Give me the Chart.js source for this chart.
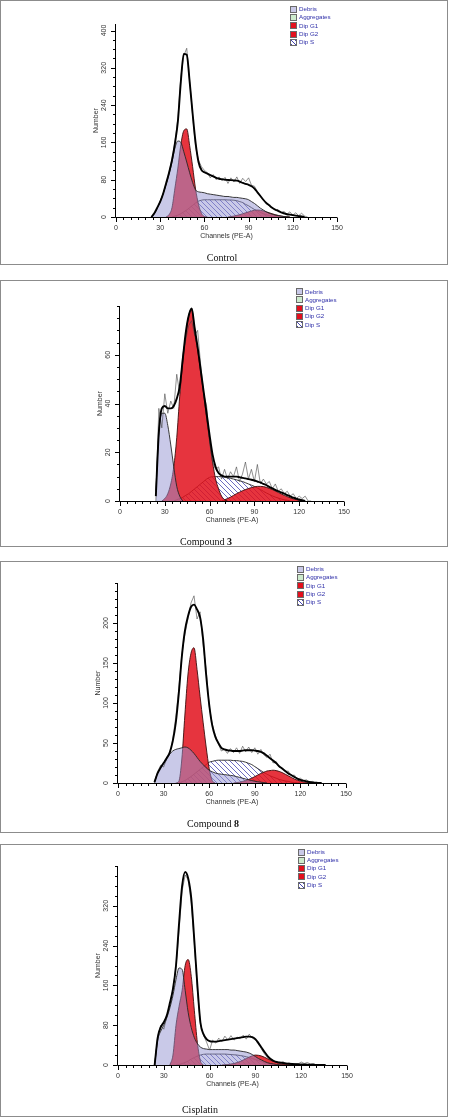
<!DOCTYPE html>
<html>
<head>
<meta charset="utf-8">
<title>DNA content histograms</title>
<script src="https://cdn.jsdelivr.net/npm/chart.js@4.4.1/dist/chart.umd.min.js"></script>
<style>
  body { margin: 0; width: 450px; height: 1117px; position: relative; background: #fff; overflow: hidden; font-family: "Liberation Sans", Arial, sans-serif; }
  .frame { position: absolute; left: 0; width: 448px; border: 1px solid #8c8c8c; box-sizing: border-box; }
  canvas { position: absolute; left: 0; }
  .legend { position: absolute; font-size: 6.2px; color: #2e2ea8; }
  .legend div { position: relative; height: 8.3px; line-height: 8.3px; padding-left: 9px; white-space: nowrap; }
  .legend i { position: absolute; left: 0; top: 0.7px; width: 7px; height: 7px; box-sizing: border-box; border: 1px solid #6a6a6a; }
  .cap { position: absolute; font-family: "Liberation Serif", "Times New Roman", serif; font-size: 10px; color: #111; transform: translate(-50%, -50%); white-space: nowrap; }
</style>
</head>
<body>
<div class="frame" style="top:0;height:265px"></div>
<div class="frame" style="top:280px;height:267px"></div>
<div class="frame" style="top:561px;height:272px"></div>
<div class="frame" style="top:844px;height:273px"></div>
<canvas id="ctl" width="450" height="265" style="top:0"></canvas>
<canvas id="c3" width="450" height="267" style="top:280px"></canvas>
<canvas id="c8" width="450" height="272" style="top:561px"></canvas>
<canvas id="cis" width="450" height="273" style="top:844px"></canvas>
<script>
// channel grid (PE-A)
const ch = [22, 24, 26, 28, 30, 32, 34, 36, 38, 40,
            42, 44, 46, 48, 50, 52, 54, 56, 58, 60,
            62, 64, 66, 68, 70, 72, 74, 76, 78, 80,
            82, 84, 86, 88, 90, 92, 94, 96, 98, 100,
            102, 104, 106, 108, 110, 112, 114, 116, 118, 120,
            122, 124, 126, 128, 130, 132, 134, 136];
const xTicks = [0, 30, 60, 90, 120, 150];
const legendNames = ["Debris", "Aggregates", "Dip G1", "Dip G2", "Dip S"];

// Control
const ctlTicks = [0, 80, 160, 240, 320, 400];
const ctlFit = [null, 0, 8, 20, 33, 50, 72, 95, 122, 158,
  205, 290, 350, 348, 290, 222, 160, 118, 101, 96,
  93, 90, 87, 84, 82, 81, 80, 79.5, 79, 78.5,
  78, 76, 73, 71, 69, 66, 61, 53, 45, 37,
  30, 25, 20, 16, 13, 10, 8, 6, 5, 4,
  3, 2, 1, 0];
const ctlRaw = [null, 0, 7, 19, 34, 51, 71, 96, 124, 160,
  212, 300, 346, 362, 292, 218, 150, 122, 108, 100,
  95, 84, 91, 80, 86, 78, 85, 72, 84, 75,
  86, 72, 83, 76, 84, 68, 66, 54, 44, 36,
  31, 24, 20, 14, 16, 9, 12, 6, 11, 4,
  9, 3, 8, 2, 0];
const ctlDebris = [null, 0, 7, 19, 33, 50, 70, 92, 118, 148,
  163, 160, 140, 118, 95, 74, 58, 54, 53, 52,
  50, 49, 48, 47, 46, 45, 44, 44, 43, 42,
  42, 41, 40, 39, 37, 33, 29, 24, 19, 15,
  11, 8, 6, 4, 3, 2, 1, 0.5, 0];
const ctlG1 = [null, null, null, null, null, null, 0, 5, 20, 62,
  105, 155, 185, 189, 153, 108, 60, 27, 8, 1,
  0];
const ctlG2 = [null, null, null, null, null, null, null, null, null, null,
  null, null, null, null, null, null, null, null, null, null,
  null, null, null, null, null, null, null, 0, 1, 2,
  3.5, 5, 7, 9, 11, 13, 14.5, 15, 14.5, 13,
  11, 9, 7, 5, 3.5, 2, 1, 0.5, 0];
const ctlS = [null, null, null, null, null, null, null, null, 0, 2,
  4, 7, 11, 15, 20, 25, 30, 34, 36, 37,
  37, 37, 37, 37, 37, 37, 37, 36.5, 36.5, 36,
  35, 33, 31, 27, 24, 20, 16, 13, 10, 7,
  5, 3, 1.5, 0.5, 0];

// Compound 3
const c3Ticks = [0, 20, 40, 60];
const c3Fit = [null, 2, 28, 38, 39, 38, 38, 39, 42, 47,
  58, 69, 76, 79, 71, 63, 54, 45, 36, 27,
  19, 14, 11.5, 10.5, 10, 10, 10, 10, 10, 9.8,
  9.5, 9.3, 9, 8.7, 8.4, 8, 7.6, 7, 6.5, 5.8,
  5.2, 4.6, 4, 3.5, 3, 2.4, 1.9, 1.4, 1, 0.6,
  0.3, 0];
const c3Raw = [null, 0, 38, 30, 44, 36, 41, 38, 52, 44,
  60, 66, 72, 74, 68, 70, 56, 44, 39, 24,
  16, 13, 14, 9, 13, 9, 12, 10, 14, 8,
  11, 16, 9, 13, 8, 15, 7, 9, 7, 8,
  5, 7, 4, 5, 3, 4, 2, 3, 1, 2,
  1, 2, 0, 0];
const c3Debris = [null, 4, 28, 36, 36, 31, 23, 14, 6, 2,
  0];
const c3G1 = [null, null, null, 0, 1, 3, 7, 14, 26, 43,
  57, 68, 76, 79, 69, 62, 53, 44, 34, 25,
  16, 9, 5, 2, 0.5, 0];
const c3G2 = [null, null, null, null, null, null, null, null, null, null,
  null, null, null, null, null, null, null, null, null, null,
  null, null, null, 0, 0.5, 1, 1.6, 2.3, 3, 3.6,
  4.2, 4.7, 5.1, 5.5, 5.8, 6, 6, 5.9, 5.6, 5.2,
  4.7, 4.1, 3.5, 2.9, 2.3, 1.8, 1.3, 0.9, 0.6, 0.3,
  0.1, 0];
const c3S = [null, null, null, null, null, null, null, 0, 0.5, 1,
  1.5, 2.3, 3, 4, 5, 6, 7, 8, 9, 9.7,
  10, 10, 10, 10, 9.8, 9.6, 9.3, 9, 8.7, 8.3,
  8, 7.5, 7, 6.5, 6, 5.3, 4.7, 4, 3.3, 2.7,
  2.1, 1.6, 1.2, 0.8, 0.5, 0.3, 0];

// Compound 8
const c8Ticks = [0, 50, 100, 150, 200];
const c8Fit = [null, 1, 12, 19, 25, 31, 38, 52, 75, 112,
  158, 190, 208, 220, 223, 217, 207, 180, 135, 98,
  72, 58, 50, 44, 42, 41, 40.5, 40, 40, 40,
  40.5, 41, 41, 41, 40.5, 40, 39, 37, 34, 31,
  28, 25, 21, 18, 15, 12, 10, 7.5, 5.5, 4,
  3, 2, 1.3, 0.8, 0.4, 0, 0];
const c8Raw = [null, 0, 14, 22, 20, 30, 36, 55, 82, 118,
  160, 186, 205, 225, 234, 205, 214, 172, 142, 96,
  74, 60, 49, 40, 42, 37, 43, 38, 44, 37,
  46, 39, 45, 38, 44, 36, 42, 35, 32, 36,
  25, 27, 20, 19, 14, 15, 9, 10, 5, 6,
  3, 4, 1, 2, 0, 0];
const c8Debris = [null, 1, 12, 19, 25, 31, 36, 40, 42, 43,
  44, 45, 44, 41, 37, 32, 27, 23, 19, 16,
  14, 12.5, 11.5, 11, 10.5, 10, 9.5, 9, 8, 7,
  6, 5, 4, 3, 2.2, 1.5, 1, 0.5, 0];
const c8G1 = [null, null, null, null, null, null, null, null, 0, 2,
  30, 85, 135, 162, 169, 142, 108, 76, 45, 18,
  3, 0];
const c8G2 = [null, null, null, null, null, null, null, null, null, null,
  null, null, null, null, null, null, null, null, null, null,
  null, null, null, null, null, null, null, 0, 0.5, 1,
  2, 3, 4.5, 6, 8, 10, 12, 13.5, 15, 15.5,
  16, 15.5, 14.5, 13, 11, 9, 7, 5, 3.5, 2.3,
  1.4, 0.8, 0.4, 0.1, 0];
const c8S = [null, null, null, null, null, null, null, null, null, 0,
  1.5, 3, 5.5, 8, 11, 14, 17, 20, 23, 26,
  27, 28, 28.5, 28.5, 28.5, 28.5, 28.5, 28, 28, 27.5,
  27, 26, 24.5, 23, 20.5, 18, 15.5, 13, 11, 9,
  7.5, 6, 4.5, 3.5, 2.5, 2, 1, 0.5, 0.2, 0];

// Cisplatin
const cisTicks = [0, 80, 160, 240, 320];
const cisFit = [null, 0, 55, 76, 86, 100, 125, 153, 200, 285,
  360, 388, 375, 335, 250, 160, 85, 62, 52, 48,
  47, 47, 48, 49, 50, 51, 52, 53, 54, 55,
  56, 57, 57, 56, 52, 44, 35, 26, 18, 12,
  8, 6, 5, 4, 3.2, 2.6, 2.1, 1.7, 1.4, 1.2,
  1, 0.8, 0.6, 0.4, 0.3, 0.2, 0.1, 0];
const cisRaw = [null, 0, 58, 80, 72, 98, 122, 152, 198, 270,
  350, 382, 372, 325, 245, 150, 82, 60, 46, 30,
  50, 44, 54, 47, 58, 50, 59, 50, 56, 53,
  60, 52, 62, 54, 50, 42, 32, 22, 15, 12,
  9, 6, 4, 7, 3, 4, 2, 3, 2, 6,
  3, 5, 2, 3, 0, 0];
const cisDebris = [null, 0, 50, 68, 80, 95, 115, 140, 172, 195,
  192, 150, 105, 75, 55, 43, 36, 33, 32, 31,
  31, 31, 31, 31, 31, 31, 30, 30, 29, 28,
  27, 26, 24, 21, 17, 13, 10, 7, 4.5, 3,
  2, 1, 0.5, 0];
const cisG1 = [null, null, null, null, null, null, 0, 20, 80, 118,
  150, 200, 212, 178, 110, 45, 8, 0];
const cisG2 = [null, null, null, null, null, null, null, null, null, null,
  null, null, null, null, null, null, null, null, null, null,
  null, null, null, 0, 0.5, 1, 2, 3, 5, 7,
  10, 13, 16, 18.5, 20, 19.5, 18, 15.5, 12.5, 9.5,
  7, 5, 3, 1.8, 1, 0.5, 0];
const cisS = [null, null, null, null, null, null, null, null, 0, 1,
  3, 5, 8, 12, 15, 18, 20, 21.5, 22, 22,
  22, 22, 22, 22, 22, 21.5, 21, 20.5, 20, 19,
  18, 16.5, 15, 13, 11, 9, 7, 5, 3.5, 2,
  1, 0.5, 0];

// diagonal hatch used for Dip S
const hatch = (function () {
  const c = document.createElement("canvas");
  c.width = 5; c.height = 5;
  const g = c.getContext("2d");
  g.strokeStyle = "#4646b0";
  g.lineWidth = 0.8;
  g.beginPath();
  g.moveTo(-1, -1); g.lineTo(6, 6);
  g.moveTo(-1, 4); g.lineTo(1, 6);
  g.moveTo(4, -1); g.lineTo(6, 1);
  g.stroke();
  return g.createPattern(c, "repeat");
})();

// axis lines, ticks and rotated y labels
const axisPlugin = {
  id: "frameAxes",
  afterDraw(chart) {
    const o = chart.options.plugins.frameAxes;
    const ctx = chart.ctx, a = chart.chartArea;
    const x = chart.scales.x, y = chart.scales.y;
    const bx = Math.round(a.left) - 0.5, by = Math.round(a.bottom) + 0.5;
    ctx.save();
    ctx.strokeStyle = "#000";
    ctx.lineWidth = 1;
    ctx.beginPath();
    ctx.moveTo(bx, a.top);
    ctx.lineTo(bx, by);
    ctx.lineTo(a.right, by);
    for (let v = 0; v <= 150; v += 5) {
      const p = Math.round(x.getPixelForValue(v)) + 0.5;
      ctx.moveTo(p, by);
      ctx.lineTo(p, by + (xTicks.includes(v) ? 4.5 : 2.5));
    }
    for (let v = 0; v <= o.max; v += o.minor) {
      const p = Math.round(y.getPixelForValue(v)) + 0.5;
      ctx.moveTo(bx, p);
      ctx.lineTo(bx - (o.ticks.includes(v) ? 4.5 : 2.5), p);
    }
    ctx.stroke();
    ctx.fillStyle = "#333";
    ctx.font = '7px "Liberation Sans", Arial, sans-serif';
    ctx.textAlign = "center";
    ctx.textBaseline = "middle";
    o.ticks.forEach(function (v) {
      ctx.save();
      ctx.translate(a.left - 11.5, y.getPixelForValue(v));
      ctx.rotate(-Math.PI / 2);
      ctx.fillText(String(v), 0, 0);
      ctx.restore();
    });
    ctx.restore();
  }
};

const panels = [
  { id: "ctl", top: 0, h: 265, L: 116, R: 337, T: 24, B: 217, ymax: 414, minor: 20, ticks: ctlTicks,
    fit: ctlFit, raw: ctlRaw, debris: ctlDebris, g1: ctlG1, g2: ctlG2, s: ctlS,
    cap: "Control", capX: 222, capY: 257, legX: 290, legY: 5.2 },
  { id: "c3", top: 280, h: 267, L: 120, R: 344, T: 306, B: 501, ymax: 80, minor: 5, ticks: c3Ticks,
    fit: c3Fit, raw: c3Raw, debris: c3Debris, g1: c3G1, g2: c3G2, s: c3S,
    cap: "Compound <b>3</b>", capX: 206, capY: 540.5, legX: 296, legY: 287.5 },
  { id: "c8", top: 561, h: 272, L: 118, R: 346, T: 583, B: 783, ymax: 250, minor: 10, ticks: c8Ticks,
    fit: c8Fit, raw: c8Raw, debris: c8Debris, g1: c8G1, g2: c8G2, s: c8S,
    cap: "Compound <b>8</b>", capX: 213, capY: 822.7, legX: 297, legY: 565.2 },
  { id: "cis", top: 844, h: 273, L: 118, R: 347, T: 866, B: 1065, ymax: 400, minor: 20, ticks: cisTicks,
    fit: cisFit, raw: cisRaw, debris: cisDebris, g1: cisG1, g2: cisG2, s: cisS,
    cap: "Cisplatin", capX: 200, capY: 1109, legX: 298, legY: 847.9 }
];

const swatches = ["#c9c9e8", "#cdebcd", "#e3101e", "#e3101e",
  "repeating-linear-gradient(45deg, #4646b0 0 1px, #fff 1px 3px)"];

function pts(arr) {
  return ch.map((c, i) => ({ x: c, y: arr[i] === undefined ? null : arr[i] }));
}

const axisFont = { size: 7, family: "Liberation Sans" };

panels.forEach(function (p) {
  // legend
  const lg = document.createElement("div");
  lg.className = "legend";
  lg.style.left = p.legX + "px";
  lg.style.top = p.legY + "px";
  legendNames.forEach(function (name, i) {
    const row = document.createElement("div");
    row.innerHTML = '<i style="background:' + swatches[i] + '"></i>' + name;
    lg.appendChild(row);
  });
  document.body.appendChild(lg);

  // caption
  const cap = document.createElement("div");
  cap.className = "cap";
  cap.style.left = p.capX + "px";
  cap.style.top = p.capY + "px";
  cap.innerHTML = p.cap;
  document.body.appendChild(cap);

  const area = { fill: "origin", borderWidth: 0.9, cubicInterpolationMode: "monotone" };
  new Chart(document.getElementById(p.id), {
    type: "line",
    data: {
      datasets: [
        { label: "Fit", data: pts(p.fit), order: 0, borderColor: "#000", borderWidth: 1.9, fill: false, cubicInterpolationMode: "monotone" },
        { label: "Data", data: pts(p.raw), order: 1, borderColor: "rgba(70,70,70,0.75)", borderWidth: 0.8, fill: false, tension: 0 },
        Object.assign({ label: "Debris", data: pts(p.debris), order: 2, borderColor: "#262626", backgroundColor: "rgba(148,148,210,0.5)" }, area),
        Object.assign({ label: "Dip G1", data: pts(p.g1), order: 3, borderColor: "#3c0c0c", backgroundColor: "rgba(226,16,28,0.85)" }, area),
        Object.assign({ label: "Dip G2", data: pts(p.g2), order: 4, borderColor: "#3c0c0c", backgroundColor: "rgba(226,16,28,0.85)" }, area),
        Object.assign({ label: "Dip S", data: pts(p.s), order: 5, borderColor: "#262626", backgroundColor: hatch }, area)
      ]
    },
    options: {
      responsive: false,
      animation: false,
      devicePixelRatio: 1,
      layout: { padding: { left: p.L - 24, right: 450 - p.R, top: p.T - p.top, bottom: p.top + p.h - p.B - 24 } },
      elements: { point: { radius: 0 } },
      plugins: {
        legend: { display: false },
        tooltip: { enabled: false },
        frameAxes: { ticks: p.ticks, max: p.ymax, minor: p.minor }
      },
      scales: {
        x: {
          type: "linear", min: 0, max: 150,
          grid: { display: false, drawTicks: false },
          border: { display: false },
          afterBuildTicks: s => { s.ticks = xTicks.map(v => ({ value: v })); },
          ticks: { maxRotation: 0, color: "#333", font: axisFont, padding: 7.3 },
          title: { display: true, text: "Channels (PE-A)", color: "#333", font: axisFont, padding: { top: 0, bottom: 0.3 } },
          afterFit: s => { s.height = 24; }
        },
        y: {
          min: 0, max: p.ymax,
          grid: { display: false, drawTicks: false },
          border: { display: false },
          ticks: { display: false },
          title: { display: true, text: "Number", color: "#333", font: axisFont, padding: { top: 0.3, bottom: 0 } },
          afterFit: s => { s.width = 24; }
        }
      }
    },
    plugins: [axisPlugin]
  });
});
</script>
</body>
</html>
